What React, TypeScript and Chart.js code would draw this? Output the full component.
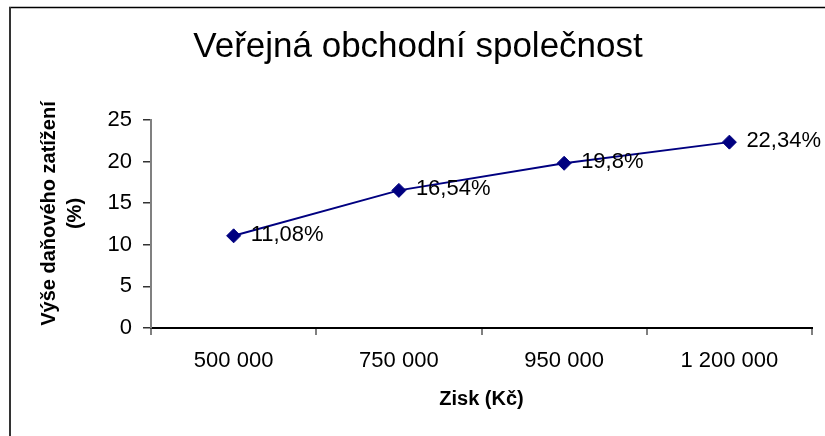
import React, { useEffect, useRef } from "react";
import { Chart, registerables } from "chart.js";

Chart.register(...registerables);

const chartTitle = "Veřejná obchodní společnost";
const categories = ["500 000", "750 000", "950 000", "1 200 000"];
const taxBurden = [11.08, 16.54, 19.8, 22.34];
const pointLabels = ["11,08%", "16,54%", "19,8%", "22,34%"];
const yTitleLines = ["Výše daňového zatížení", "(%)"];
const xTitle = "Zisk (Kč)";
const yTicks = [0, 5, 10, 15, 20, 25];

const FONT = '"Liberation Sans", Arial, sans-serif';

const decorPlugin = {
  id: "decor",
  beforeDraw(chart: any) {
    const ctx = chart.ctx;
    ctx.save();
    ctx.fillStyle = "#fff";
    ctx.fillRect(0, 0, chart.width, chart.height);
    ctx.strokeStyle = "#000";
    ctx.lineWidth = 1.5;
    ctx.beginPath();
    ctx.moveTo(9, 7.5);
    ctx.lineTo(chart.width, 7.5);
    ctx.stroke();
    ctx.strokeStyle = "#333";
    ctx.lineWidth = 2;
    ctx.beginPath();
    ctx.moveTo(10, 7);
    ctx.lineTo(10, chart.height);
    ctx.stroke();
    ctx.restore();
  },
  afterDraw(chart: any) {
    const ctx = chart.ctx;
    ctx.save();
    ctx.fillStyle = "#000";
    ctx.font = `35px ${FONT}`;
    ctx.textAlign = "center";
    ctx.textBaseline = "alphabetic";
    ctx.fillText(chartTitle, 418, 57);
    ctx.font = `bold 20px ${FONT}`;
    ctx.textBaseline = "middle";
    ctx.translate(0, 213.5);
    ctx.rotate(-Math.PI / 2);
    ctx.fillText(yTitleLines[0], 0, 49);
    ctx.fillText(yTitleLines[1], 0, 75.5);
    ctx.restore();
  },
  afterDatasetsDraw(chart: any) {
    const ctx = chart.ctx;
    const meta = chart.getDatasetMeta(0);
    ctx.save();
    ctx.fillStyle = "#000";
    ctx.font = `22px ${FONT}`;
    ctx.textAlign = "left";
    ctx.textBaseline = "middle";
    meta.data.forEach((pt: any, i: number) => {
      ctx.fillText(pointLabels[i], pt.x + 17, pt.y - 1);
    });
    ctx.restore();
  },
};

export default function App() {
  const ref = useRef<HTMLCanvasElement>(null);
  useEffect(() => {
    if (!ref.current) return;
    const chart = new Chart(ref.current, {
      type: "line",
      data: {
        labels: categories,
        datasets: [
          {
            data: taxBurden,
            borderColor: "#000080",
            backgroundColor: "#000080",
            borderWidth: 2,
            pointStyle: "rectRot",
            pointRadius: 7,
            pointBackgroundColor: "#000080",
            pointBorderColor: "#000080",
            pointBorderWidth: 1,
            tension: 0,
          },
        ],
      },
      options: {
        responsive: false,
        animation: false,
        devicePixelRatio: 1,
        layout: { padding: { top: 120, right: 13, left: 0, bottom: 0 } },
        plugins: {
          legend: { display: false },
          tooltip: { enabled: false },
          title: { display: false },
        },
        scales: {
          x: {
            type: "category",
            offset: true,
            grid: {
              offset: true,
              drawOnChartArea: false,
              drawTicks: true,
              tickLength: 7,
              color: "#808080",
              lineWidth: 2,
            },
            border: { display: true, color: "#000", width: 2 },
            ticks: {
              color: "#000",
              font: { family: FONT, size: 22 },
              padding: 13,
              maxRotation: 0,
              autoSkip: false,
            },
            title: {
              display: true,
              text: xTitle,
              color: "#000",
              font: { family: FONT, size: 20, weight: "bold" },
              padding: { top: 0, bottom: 25 },
            },
            afterFit: (s: any) => {
              s.height = 108;
            },
          },
          y: {
            min: 0,
            max: 25,
            afterBuildTicks: (s: any) => {
              s.ticks = yTicks.map((v) => ({ value: v }));
            },
            grid: {
              drawOnChartArea: false,
              drawTicks: true,
              tickLength: 8,
              color: "#333",
              lineWidth: 1.5,
            },
            border: { display: true, color: "#808080", width: 2 },
            ticks: {
              color: "#000",
              font: { family: FONT, size: 22 },
              padding: 11,
            },
            afterFit: (s: any) => {
              s.width = 151;
            },
          },
        },
      },
      plugins: [decorPlugin],
    });
    return () => chart.destroy();
  }, []);
  return (
    <div style={{ position: "absolute", left: 0, top: 0, width: 825, height: 436 }}>
      <canvas ref={ref} width={825} height={436} />
    </div>
  );
}
